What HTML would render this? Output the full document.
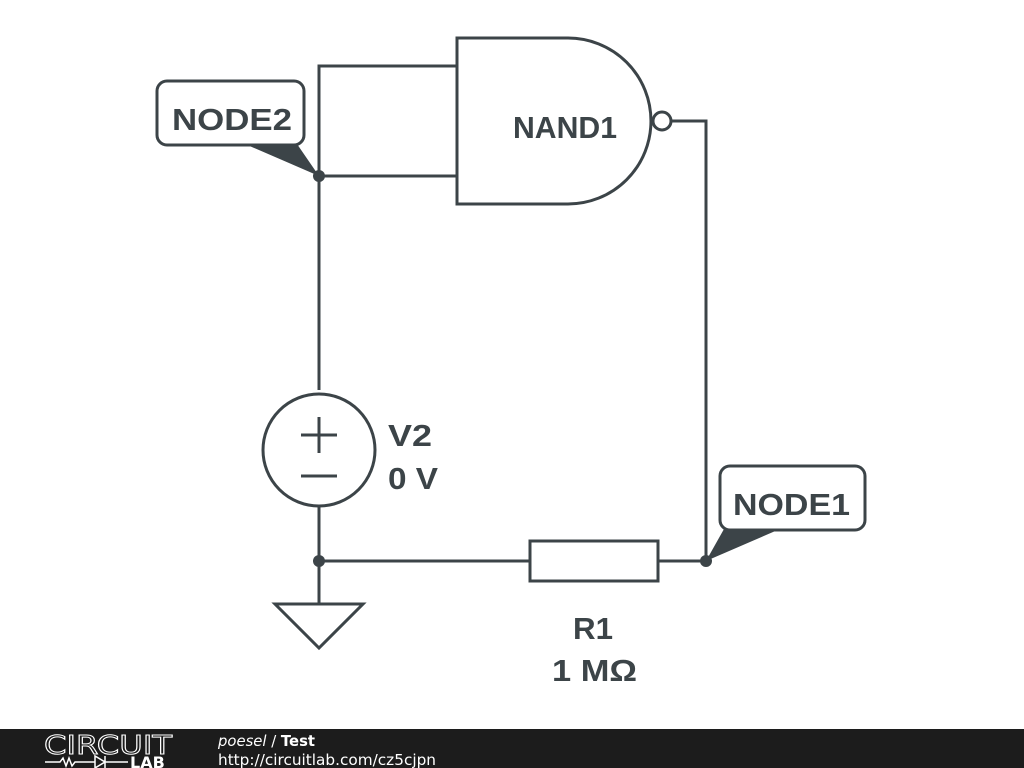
<!DOCTYPE html>
<html><head><style>html,body{margin:0;padding:0;background:#fff;width:1024px;height:768px;overflow:hidden}</style></head>
<body>
<svg width="1024" height="768" xmlns="http://www.w3.org/2000/svg" style="display:block">
<g stroke="#3c4448" stroke-width="3" fill="none">
<path d="M457,38 H568 A83,83 0 0 1 568,204 H457 Z" fill="#fff"/>
<circle cx="662" cy="121" r="9"/>
<path d="M671,121 H706 V561"/>
<path d="M457,66 H319 V390"/>
<path d="M319,176 H457"/>
<circle cx="319" cy="450" r="56"/>
<path d="M301,435 H337 M319,417 V453 M301,476 H337"/>
<path d="M319,506 V604"/>
<path d="M275,604 H363 L319,648 Z"/>
<path d="M319,561 H530 M658,561 H706"/>
<rect x="530" y="541" width="128" height="40"/>
<rect x="157" y="81" width="147" height="64" rx="10" fill="#fff"/>
<rect x="720" y="466" width="145" height="64" rx="10" fill="#fff"/>
</g>
<g fill="#3c4448">
<circle cx="319" cy="176" r="6"/>
<circle cx="319" cy="561" r="6"/>
<circle cx="706" cy="561" r="6"/>
<path d="M245,144 L297,144 L319,176 Z"/>
<path d="M724,529 L780,529 L706,561 Z"/>
</g>
<g font-family="Liberation Sans, sans-serif" font-weight="bold" font-size="31" fill="#3c4448" lengthAdjust="spacingAndGlyphs">
<text x="172" y="130" textLength="120" lengthAdjust="spacingAndGlyphs">NODE2</text>
<text x="513" y="138" textLength="104" lengthAdjust="spacingAndGlyphs">NAND1</text>
<text x="733" y="515" textLength="117" lengthAdjust="spacingAndGlyphs">NODE1</text>
<text x="388" y="446" textLength="44" lengthAdjust="spacingAndGlyphs">V2</text>
<text x="388" y="489" textLength="50" lengthAdjust="spacingAndGlyphs">0 V</text>
<text x="573" y="639" textLength="40" lengthAdjust="spacingAndGlyphs">R1</text>
<text x="552" y="681" textLength="85" lengthAdjust="spacingAndGlyphs">1 MΩ</text>
</g>
<rect x="0" y="729" width="1024" height="39" fill="#1c1c1c"/>
<g font-family="DejaVu Sans, sans-serif" fill="#fff">
<text x="44" y="754" font-size="26" textLength="128" lengthAdjust="spacingAndGlyphs" fill="none" stroke="#fff" stroke-width="1">CIRCUIT</text>
<text x="130" y="768" font-size="16" font-weight="bold">LAB</text>
<path d="M45,762 H60 l3,-4 3,8 3,-8 3,8 3,-4 H95 M95,756 v12 l10,-6 z M105,756 v12 M105,762 H128" stroke="#fff" stroke-width="1.5" fill="none"/>
<text x="218" y="746" font-size="15" textLength="97" lengthAdjust="spacingAndGlyphs"><tspan font-style="italic">poesel</tspan> / <tspan font-weight="bold">Test</tspan></text>
<text x="218" y="765" font-size="15" textLength="218" lengthAdjust="spacingAndGlyphs">http://circuitlab.com/cz5cjpn</text>
</g>
</svg>
</body></html>
